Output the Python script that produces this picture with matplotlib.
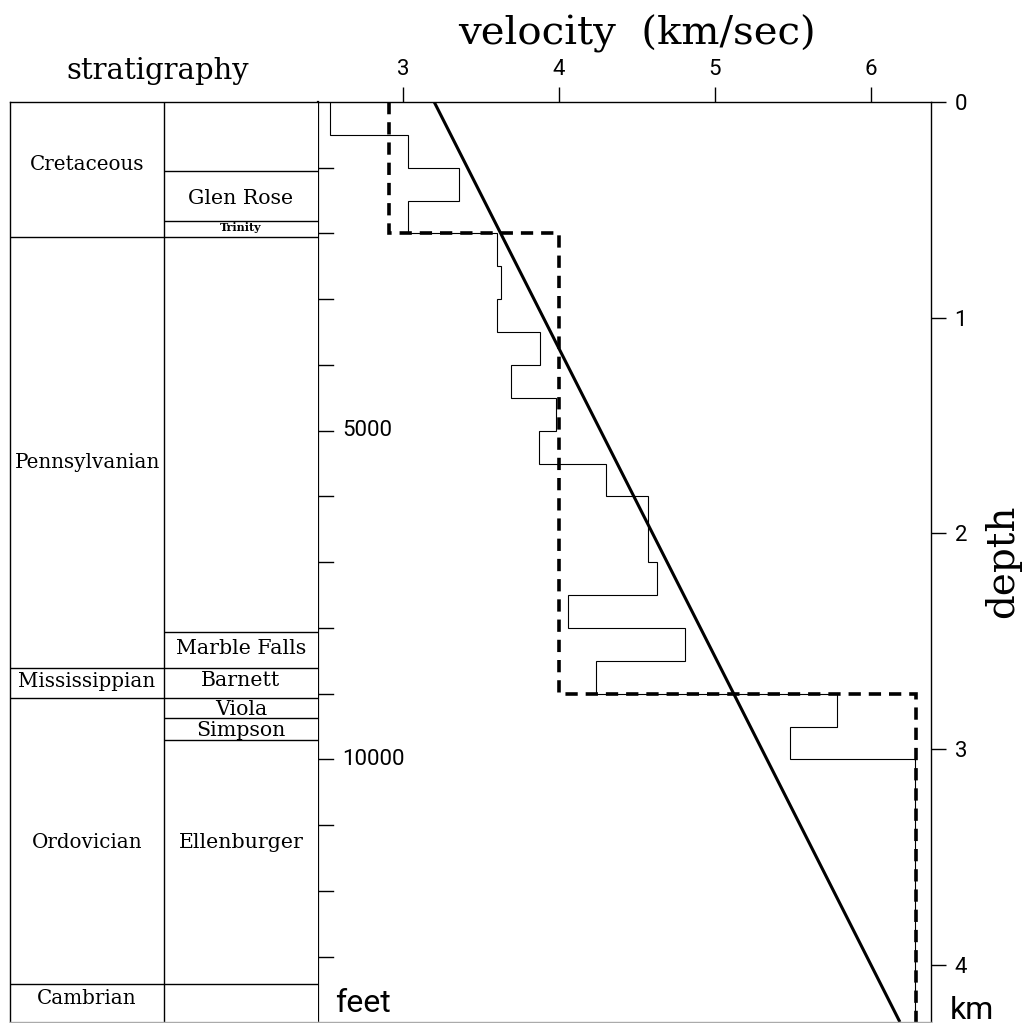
"""
Velocity-depth profile with stratigraphic column.
"""
import numpy as np
import matplotlib as mpl
mpl.use('Agg')
import matplotlib.pyplot as plt

FT2KM = 0.0003048
ZMAX = 4.265          # bottom of the section, km

# interval velocities in 500 ft steps (top of step in feet, km/s)
interval_top_ft = [0, 500, 1000, 1500, 2000, 2500, 3000, 3500, 4000, 4500,
                   5000, 5500, 6000, 7000, 7500, 8000, 8500, 9000, 9500, 10000]
interval_vel = [2.53, 3.03, 3.36, 3.03, 3.60, 3.63, 3.60, 3.88, 3.69, 3.98,
                3.87, 4.30, 4.57, 4.63, 4.06, 4.81, 4.24, 5.78, 5.48, 6.28]

# blocky three-layer model
layer_top_ft = [0, 2000, 9000]
layer_vel = [2.91, 4.0, 6.29]

# linear gradient model v = v0 + k z
v0 = 3.2
grad_k = 0.7

# stratigraphy: systems (left column) and formations (right column), km
system_bounds = [0.624, 2.625, 2.761, 4.088]
system_names = ["Cretaceous", "Pennsylvanian", "Mississippian", "Ordovician", "Cambrian"]
system_label_z = [0.292, 1.673, 2.688, 3.433, 4.158]

formation_bounds = [0.318, 0.550, 0.624, 2.457, 2.625, 2.761, 2.854, 2.957, 4.088]
formation_names = ["Glen Rose", "Trinity", "Marble Falls", "Barnett", "Viola",
                   "Simpson", "Ellenburger"]
formation_label_z = [0.446, 0.583, 2.532, 2.684, 2.818, 2.914, 3.433]

vel_ticks = [3, 4, 5, 6]
km_ticks = [0, 1, 2, 3, 4]
ft_ticks = np.arange(1000, 14000, 1000)
ft_labels = [5000, 10000]

SERIF = "DejaVu Serif"
NUM = "Roboto"
NUMSIZE = 16

W = H = 1023


def box(x0, y0, x1, y1):
    # pixel rectangle (y down) -> figure fraction
    return [x0 / W, 1 - y1 / H, (x1 - x0) / W, (y1 - y0) / H]


fig = plt.figure(figsize=(10.23, 10.23), dpi=100)

# ---- velocity panel
ax = fig.add_axes(box(318, 102, 931, 1022))
ax.set_xlim(2.455, 6.385)
ax.set_ylim(ZMAX, 0)

edges = np.array(interval_top_ft + [ZMAX / FT2KM]) * FT2KM
ax.stairs(interval_vel, edges, orientation='horizontal', baseline=None,
          color='black', lw=0.8)

ledges = np.array(layer_top_ft + [ZMAX / FT2KM]) * FT2KM
ax.stairs(layer_vel, ledges, orientation='horizontal', baseline=None,
          color='black', lw=2.6, linestyle=(0, (3.4, 2.2)))

z = np.array([0, ZMAX])
ax.plot(v0 + grad_k * z, z, color='black', lw=2.2, solid_capstyle='butt')

ax.spines['left'].set_linewidth(1.6)
ax.spines['top'].set_linewidth(1.0)
ax.spines['right'].set_linewidth(1.0)
ax.spines['bottom'].set_linewidth(1.0)
ax.spines['bottom'].set_color('#aaaaaa')

ax.xaxis.tick_top()
ax.set_xticks(vel_ticks)
ax.set_xticklabels([str(v) for v in vel_ticks], family=NUM, fontsize=NUMSIZE)
ax.tick_params(axis='x', direction='out', length=11, width=1, pad=5)

ax.yaxis.tick_right()
ax.set_yticks(km_ticks)
ax.set_yticklabels([str(k) for k in km_ticks], family=NUM, fontsize=NUMSIZE)
ax.tick_params(axis='y', direction='out', length=11, width=1, pad=6)

# feet scale along the inside of the left edge
for f in ft_ticks:
    ax.plot([0, 0.024], [f * FT2KM] * 2, color='black', lw=1.0,
            transform=ax.get_yaxis_transform(), clip_on=False)
for f in ft_labels:
    ax.text(0.04, f * FT2KM, str(f), transform=ax.get_yaxis_transform(),
            ha='left', va='center', family=NUM, fontsize=NUMSIZE)
ax.text(0.028, 0.004, "feet", transform=ax.transAxes, ha='left', va='bottom',
        family=NUM, fontsize=23)
fig.text(950 / W, 1 - 1025 / H, "km", ha='left', va='bottom',
         family=NUM, fontsize=23)

# ---- stratigraphic column
sx = fig.add_axes(box(10, 102, 318, 1022))
sx.set_xlim(0, 2)
sx.set_ylim(ZMAX, 0)
sx.set_xticks([])
sx.set_yticks([])
for s in ['left', 'top']:
    sx.spines[s].set_linewidth(1.0)
sx.spines['right'].set_visible(False)
sx.spines['bottom'].set_linewidth(1.0)
sx.spines['bottom'].set_color('#aaaaaa')
sx.axvline(1, color='black', lw=1.0)
sx.hlines(system_bounds, 0, 1, color='black', lw=1.0)
sx.hlines(formation_bounds, 1, 2, color='black', lw=1.0)

for name, zl in zip(system_names, system_label_z):
    sx.text(0.5, zl, name, ha='center', va='center', family=SERIF, fontsize=14.3)
for name, zl in zip(formation_names, formation_label_z):
    if name == "Trinity":
        sx.text(1.5, zl, name, ha='center', va='center', family=SERIF,
                fontsize=8, fontweight='bold')
    else:
        sx.text(1.5, zl, name, ha='center', va='center', family=SERIF, fontsize=14.8)

# ---- titles
fig.text(637 / W, 1 - 34 / H, "velocity  (km/sec)", ha='center', va='center',
         family=SERIF, fontsize=29)
fig.text(158 / W, 1 - 71 / H, "stratigraphy", ha='center', va='center',
         family=SERIF, fontsize=21)
fig.text(1003 / W, 1 - 561 / H, "depth", ha='center', va='center', rotation=90,
         family=SERIF, fontsize=28)

fig.savefig("out.png", dpi=100)
